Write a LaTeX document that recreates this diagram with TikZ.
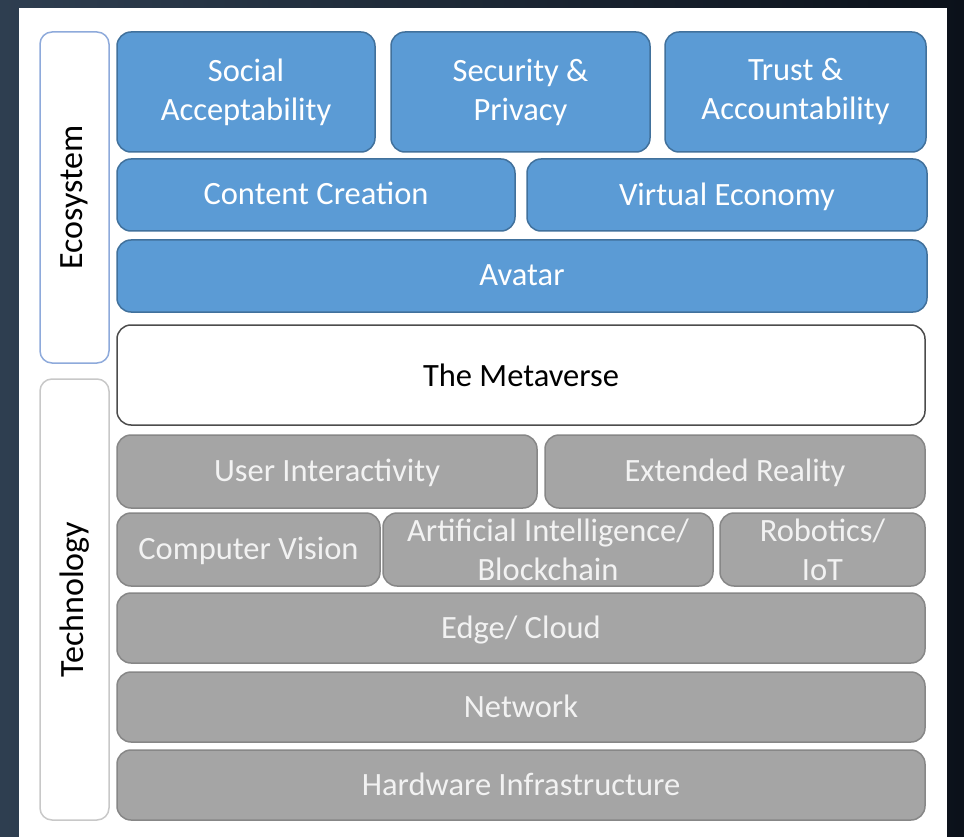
\documentclass[tikz,border=0pt]{standalone}
\usepackage{fontspec}
\setmainfont{Carlito}
\usepackage{tikz}
\usetikzlibrary{positioning}

\definecolor{bgtop}{HTML}{2E3E50}
\definecolor{bgbot}{HTML}{0B111A}
\definecolor{ecoblue}{HTML}{5B9BD5}
\definecolor{ecoedge}{HTML}{41719C}
\definecolor{techgray}{HTML}{A5A5A5}
\definecolor{techedge}{HTML}{878787}
\definecolor{sideblue}{HTML}{8EAADB}
\definecolor{sidegray}{HTML}{C8C8C8}

\begin{document}
\begin{tikzpicture}[x=1pt,y=-1pt,
    layer/.style={rounded corners=14pt,line width=1.5pt,align=center,
                  inner sep=0pt,font=\fontsize{32.5}{39}\selectfont},
    eco/.style={layer,fill=ecoblue,draw=ecoedge,text=white},
    tech/.style={layer,fill=techgray,draw=techedge,text=white!95!black},
    core/.style={layer,fill=white,draw=black!70,text=black},
    side/.style={rounded corners=12pt,line width=1.5pt,fill=white,rotate=90,
                 inner sep=0pt,font=\fontsize{34}{40}\selectfont}]
  % background and page
  \shade[left color=bgtop,right color=bgbot] (0,0) rectangle (964,837);
  \fill[white] (19,8) rectangle (947,837);
  \useasboundingbox (0,0) rectangle (964,837);

  % side labels
  \node[side,draw=sideblue,minimum width=331pt,minimum height=69pt] (ecosys) at (74.5,197.5) {Ecosystem};
  \node[side,draw=sidegray,minimum width=441pt,minimum height=69pt] (techno) at (74.5,599.5) {Technology};

  % ecosystem
  \node[eco,minimum width=258pt,minimum height=120pt] (social) at (246,92) {Social\\Acceptability};
  \node[eco,minimum width=259pt,minimum height=120pt] (security) at (520.5,92) {Security \&\\Privacy};
  \node[eco,minimum width=261pt,minimum height=120pt] (trust) at (795.5,92) {Trust \&\\Accountability};
  \node[eco,minimum width=398pt,minimum height=72pt,text depth=0.25em] (content) at (316,195) {Content Creation};
  \node[eco,minimum width=400pt,minimum height=72pt,text depth=0.25em] (economy) at (727,195) {Virtual Economy};
  \node[eco,minimum width=810pt,minimum height=72pt,text depth=0.25em] (avatar) at (522,276) {Avatar};

  % metaverse
  \node[core,minimum width=808pt,minimum height=100pt] (meta) at (521,375) {The Metaverse};

  % technology
  \node[tech,minimum width=420pt,minimum height=73pt,text depth=0.25em] (user) at (327,471.5) {User Interactivity};
  \node[tech,minimum width=380pt,minimum height=73pt,text depth=0.25em] (xr) at (735,471.5) {Extended Reality};
  \node[tech,minimum width=263pt,minimum height=73pt,text depth=0.25em] (vision) at (248.5,549.5) {Computer Vision};
  \node[tech,minimum width=330pt,minimum height=73pt] (ai) at (548,549.5) {Artificial Intelligence/\\Blockchain};
  \node[tech,minimum width=205pt,minimum height=73pt] (robot) at (822.5,549.5) {Robotics/\\IoT};
  \node[tech,minimum width=808pt,minimum height=70pt,text depth=0.25em] (edge) at (521,628) {Edge/ Cloud};
  \node[tech,minimum width=808pt,minimum height=70pt,text depth=0.25em] (net) at (521,707) {Network};
  \node[tech,minimum width=808pt,minimum height=70pt,text depth=0.25em] (hw) at (521,785) {Hardware Infrastructure};
\end{tikzpicture}
\end{document}
